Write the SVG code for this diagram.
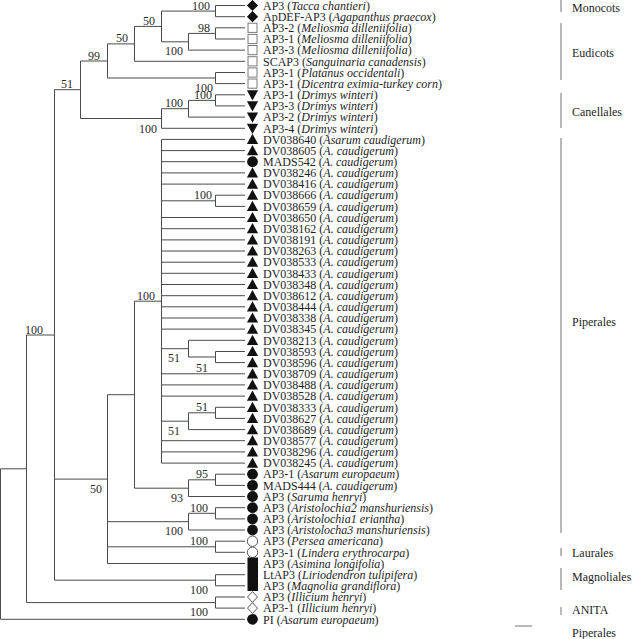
<svg xmlns="http://www.w3.org/2000/svg" xmlns:xlink="http://www.w3.org/1999/xlink" width="632" height="639" viewBox="0 0 632 639">
<style>
text{font-family:"Liberation Serif","Times New Roman",serif;font-size:12px;fill:#1e1e1e}
.i{font-style:italic}
.bs{text-anchor:end;fill:#2a2a2a}
.tree{fill:none;stroke:#4a4a4a;stroke-width:1}
.bar{fill:none;stroke:#8a8a8a;stroke-width:1.2}
</style>
<defs>
<path id="dia" d="M0,-5.6 L5.6,0 L0,5.6 L-5.6,0Z" fill="#111"/>
<rect id="sq" x="-4.5" y="-4.6" width="9" height="9.2" fill="#fff" stroke="#7a7a7a" stroke-width="1"/>
<path id="tri" d="M0,-5.6 L5.6,4.6 L-5.6,4.6Z" fill="#111"/>
<path id="itri" d="M-5.6,-4.6 L5.6,-4.6 L0,5.6Z" fill="#111"/>
<circle id="dot" r="5.4" fill="#111"/>
<circle id="ocir" r="5.2" fill="#fff" stroke="#555" stroke-width="1"/>
<path id="odia" d="M0,-5.4 L5,0 L0,5.4 L-5,0Z" fill="#fff" stroke="#555" stroke-width="1"/>
</defs>

<g id="connectors" class="tree">
<path d="M0.5,468.8 V619.3 M0.5,468.8 H26.5 M0.5,619.3 H245
M26.5,335 V602.6 M26.5,335 H54.5 M26.5,602.6 H215.5
M215.5,597 V608.1 M215.5,597 H245 M215.5,608.1 H245
M54.5,89.7 V580.2 M54.5,89.7 H80.5 M54.5,479.1 H107.5 M54.5,580.2 H215.5
M215.5,574.7 V585.8 M215.5,574.7 H245 M215.5,585.8 H245
M80.5,61 V118.5 M80.5,61 H107.5 M80.5,118.5 H161.5
M107.5,43.9 V78 M107.5,43.9 H134.5 M107.5,78 H215.5
M215.5,72.5 V83.6 M215.5,72.5 H245 M215.5,83.6 H245
M134.5,26.4 V61.3 M134.5,26.4 H161.5 M134.5,61.3 H245
M161.5,11.1 V41.8 M161.5,11.1 H215.5 M161.5,41.8 H188.5
M215.5,5.5 V16.7 M215.5,5.5 H245 M215.5,16.7 H245
M188.5,33.4 V50.1 M188.5,33.4 H215.5 M188.5,50.1 H245
M215.5,27.8 V39 M215.5,27.8 H245 M215.5,39 H245
M161.5,108.7 V128.3 M161.5,108.7 H188.5 M161.5,128.3 H245
M188.5,100.4 V117.1 M188.5,100.4 H215.5 M188.5,117.1 H245
M215.5,94.8 V105.9 M215.5,94.8 H245 M215.5,105.9 H245
M107.5,394.7 V563.5 M107.5,394.7 H134.5 M107.5,521.7 H188.5 M107.5,546.8 H215.5 M107.5,563.5 H245
M134.5,301.2 V488.2 M134.5,301.2 H161.5 M134.5,488.2 H188.5
M161.5,139.4 V463.1 M161.5,200.8 H215.5 M161.5,348.7 H188.5 M161.5,421.2 H188.5
M161.5,139.4 H245 M161.5,150.6 H245 M161.5,161.7 H245 M161.5,172.9 H245 M161.5,184.1 H245
M161.5,217.5 H245 M161.5,228.7 H245 M161.5,239.9 H245 M161.5,251 H245 M161.5,262.2 H245 M161.5,273.3 H245 M161.5,284.5 H245 M161.5,295.7 H245 M161.5,306.8 H245 M161.5,318 H245 M161.5,329.1 H245
M161.5,373.8 H245 M161.5,384.9 H245 M161.5,396.1 H245
M161.5,440.7 H245 M161.5,451.9 H245 M161.5,463.1 H245
M215.5,195.2 V206.4 M215.5,195.2 H245 M215.5,206.4 H245
M188.5,340.3 V357 M188.5,340.3 H245 M188.5,357 H215.5
M215.5,351.5 V362.6 M215.5,351.5 H245 M215.5,362.6 H245
M188.5,412.8 V429.6 M188.5,412.8 H215.5 M188.5,429.6 H245
M215.5,407.3 V418.4 M215.5,407.3 H245 M215.5,418.4 H245
M188.5,479.8 V496.5 M188.5,479.8 H215.5 M188.5,496.5 H245
M215.5,474.2 V485.4 M215.5,474.2 H245 M215.5,485.4 H245
M188.5,513.3 V530 M188.5,513.3 H215.5 M188.5,530 H245
M215.5,507.7 V518.9 M215.5,507.7 H245 M215.5,518.9 H245
M215.5,541.2 V552.3 M215.5,541.2 H245 M215.5,552.3 H245"/>
</g>

<g id="support-values">
<text class="bs" x="210" y="9.6">100</text>
<text class="bs" x="210" y="31.9">98</text>
<text class="bs" x="183" y="55.2">100</text>
<text class="bs" x="155" y="24.9">50</text>
<text class="bs" x="128" y="42.4">50</text>
<text class="bs" x="100" y="59.5">99</text>
<text class="bs" x="213" y="92">100</text>
<text class="bs" x="212" y="98.9">100</text>
<text class="bs" x="183" y="107.2">100</text>
<text class="bs" x="157" y="132.5">100</text>
<text class="bs" x="73" y="88.2">51</text>
<text class="bs" x="43" y="333.5">100</text>
<text class="bs" x="212" y="199.3">100</text>
<text class="bs" x="180" y="362.3">51</text>
<text class="bs" x="208" y="372.3">51</text>
<text class="bs" x="208" y="411.3">51</text>
<text class="bs" x="180" y="434.7">51</text>
<text class="bs" x="155" y="299.7">100</text>
<text class="bs" x="208" y="478.3">95</text>
<text class="bs" x="183" y="501.5">93</text>
<text class="bs" x="208" y="511.8">100</text>
<text class="bs" x="183" y="535">100</text>
<text class="bs" x="208" y="545.3">100</text>
<text class="bs" x="102" y="492.8">50</text>
<text class="bs" x="208" y="593.5">100</text>
<text class="bs" x="208" y="615.5">100</text>
</g>

<g id="leaf-0"><use href="#dia" x="252.5" y="5.5"/><text x="263" y="9.7">AP3 (<tspan class="i">Tacca chantieri</tspan>)</text></g>
<g id="leaf-1"><use href="#dia" x="252.5" y="16.7"/><text x="263" y="20.9">ApDEF-AP3 (<tspan class="i">Agapanthus praecox</tspan>)</text></g>
<g id="leaf-2"><use href="#sq" x="252.5" y="27.8"/><text x="263" y="32">AP3-2 (<tspan class="i">Meliosma dilleniifolia</tspan>)</text></g>
<g id="leaf-3"><use href="#sq" x="252.5" y="39"/><text x="263" y="43.2">AP3-1 (<tspan class="i">Meliosma dilleniifolia</tspan>)</text></g>
<g id="leaf-4"><use href="#sq" x="252.5" y="50.1"/><text x="263" y="54.3">AP3-3 (<tspan class="i">Meliosma dilleniifolia</tspan>)</text></g>
<g id="leaf-5"><use href="#sq" x="252.5" y="61.3"/><text x="263" y="65.5">SCAP3 (<tspan class="i">Sanguinaria canadensis</tspan>)</text></g>
<g id="leaf-6"><use href="#sq" x="252.5" y="72.5"/><text x="263" y="76.7">AP3-1 (<tspan class="i">Platanus occidentali</tspan>)</text></g>
<g id="leaf-7"><use href="#sq" x="252.5" y="83.6"/><text x="263" y="87.8">AP3-1 (<tspan class="i">Dicentra eximia-turkey corn</tspan>)</text></g>
<g id="leaf-8"><use href="#itri" x="252.5" y="94.8"/><text x="263" y="99">AP3-1 (<tspan class="i">Drimys winteri</tspan>)</text></g>
<g id="leaf-9"><use href="#itri" x="252.5" y="105.9"/><text x="263" y="110.1">AP3-3 (<tspan class="i">Drimys winteri</tspan>)</text></g>
<g id="leaf-10"><use href="#itri" x="252.5" y="117.1"/><text x="263" y="121.3">AP3-2 (<tspan class="i">Drimys winteri</tspan>)</text></g>
<g id="leaf-11"><use href="#itri" x="252.5" y="128.3"/><text x="263" y="132.5">AP3-4 (<tspan class="i">Drimys winteri</tspan>)</text></g>
<g id="leaf-12"><use href="#tri" x="252.5" y="139.4"/><text x="263" y="143.6">DV038640 (<tspan class="i">Asarum caudigerum</tspan>)</text></g>
<g id="leaf-13"><use href="#tri" x="252.5" y="150.6"/><text x="263" y="154.8">DV038605 (<tspan class="i">A. caudigerum</tspan>)</text></g>
<g id="leaf-14"><use href="#dot" x="252.5" y="161.7"/><text x="263" y="165.9">MADS542 (<tspan class="i">A. caudigerum</tspan>)</text></g>
<g id="leaf-15"><use href="#tri" x="252.5" y="172.9"/><text x="263" y="177.1">DV038246 (<tspan class="i">A. caudigerum</tspan>)</text></g>
<g id="leaf-16"><use href="#tri" x="252.5" y="184.1"/><text x="263" y="188.3">DV038416 (<tspan class="i">A. caudigerum</tspan>)</text></g>
<g id="leaf-17"><use href="#tri" x="252.5" y="195.2"/><text x="263" y="199.4">DV038666 (<tspan class="i">A. caudigerum</tspan>)</text></g>
<g id="leaf-18"><use href="#tri" x="252.5" y="206.4"/><text x="263" y="210.6">DV038659 (<tspan class="i">A. caudigerum</tspan>)</text></g>
<g id="leaf-19"><use href="#tri" x="252.5" y="217.5"/><text x="263" y="221.7">DV038650 (<tspan class="i">A. caudigerum</tspan>)</text></g>
<g id="leaf-20"><use href="#tri" x="252.5" y="228.7"/><text x="263" y="232.9">DV038162 (<tspan class="i">A. caudigerum</tspan>)</text></g>
<g id="leaf-21"><use href="#tri" x="252.5" y="239.9"/><text x="263" y="244.1">DV038191 (<tspan class="i">A. caudigerum</tspan>)</text></g>
<g id="leaf-22"><use href="#tri" x="252.5" y="251"/><text x="263" y="255.2">DV038263 (<tspan class="i">A. caudigerum</tspan>)</text></g>
<g id="leaf-23"><use href="#tri" x="252.5" y="262.2"/><text x="263" y="266.4">DV038533 (<tspan class="i">A. caudigerum</tspan>)</text></g>
<g id="leaf-24"><use href="#tri" x="252.5" y="273.3"/><text x="263" y="277.5">DV038433 (<tspan class="i">A. caudigerum</tspan>)</text></g>
<g id="leaf-25"><use href="#tri" x="252.5" y="284.5"/><text x="263" y="288.7">DV038348 (<tspan class="i">A. caudigerum</tspan>)</text></g>
<g id="leaf-26"><use href="#tri" x="252.5" y="295.7"/><text x="263" y="299.9">DV038612 (<tspan class="i">A. caudigerum</tspan>)</text></g>
<g id="leaf-27"><use href="#tri" x="252.5" y="306.8"/><text x="263" y="311">DV038444 (<tspan class="i">A. caudigerum</tspan>)</text></g>
<g id="leaf-28"><use href="#tri" x="252.5" y="318"/><text x="263" y="322.2">DV038338 (<tspan class="i">A. caudigerum</tspan>)</text></g>
<g id="leaf-29"><use href="#tri" x="252.5" y="329.1"/><text x="263" y="333.3">DV038345 (<tspan class="i">A. caudigerum</tspan>)</text></g>
<g id="leaf-30"><use href="#tri" x="252.5" y="340.3"/><text x="263" y="344.5">DV038213 (<tspan class="i">A. caudigerum</tspan>)</text></g>
<g id="leaf-31"><use href="#tri" x="252.5" y="351.5"/><text x="263" y="355.7">DV038593 (<tspan class="i">A. caudigerum</tspan>)</text></g>
<g id="leaf-32"><use href="#tri" x="252.5" y="362.6"/><text x="263" y="366.8">DV038596 (<tspan class="i">A. caudigerum</tspan>)</text></g>
<g id="leaf-33"><use href="#tri" x="252.5" y="373.8"/><text x="263" y="378">DV038709 (<tspan class="i">A. caudigerum</tspan>)</text></g>
<g id="leaf-34"><use href="#tri" x="252.5" y="384.9"/><text x="263" y="389.1">DV038488 (<tspan class="i">A. caudigerum</tspan>)</text></g>
<g id="leaf-35"><use href="#tri" x="252.5" y="396.1"/><text x="263" y="400.3">DV038528 (<tspan class="i">A. caudigerum</tspan>)</text></g>
<g id="leaf-36"><use href="#tri" x="252.5" y="407.3"/><text x="263" y="411.5">DV038333 (<tspan class="i">A. caudigerum</tspan>)</text></g>
<g id="leaf-37"><use href="#tri" x="252.5" y="418.4"/><text x="263" y="422.6">DV038627 (<tspan class="i">A. caudigerum</tspan>)</text></g>
<g id="leaf-38"><use href="#tri" x="252.5" y="429.6"/><text x="263" y="433.8">DV038689 (<tspan class="i">A. caudigerum</tspan>)</text></g>
<g id="leaf-39"><use href="#tri" x="252.5" y="440.7"/><text x="263" y="444.9">DV038577 (<tspan class="i">A. caudigerum</tspan>)</text></g>
<g id="leaf-40"><use href="#tri" x="252.5" y="451.9"/><text x="263" y="456.1">DV038296 (<tspan class="i">A. caudigerum</tspan>)</text></g>
<g id="leaf-41"><use href="#tri" x="252.5" y="463.1"/><text x="263" y="467.3">DV038245 (<tspan class="i">A. caudigerum</tspan>)</text></g>
<g id="leaf-42"><use href="#dot" x="252.5" y="474.2"/><text x="263" y="478.4">AP3-1 (<tspan class="i">Asarum europaeum</tspan>)</text></g>
<g id="leaf-43"><use href="#dot" x="252.5" y="485.4"/><text x="263" y="489.6">MADS444 (<tspan class="i">A. caudigerum</tspan>)</text></g>
<g id="leaf-44"><use href="#dot" x="252.5" y="496.5"/><text x="263" y="500.7">AP3 (<tspan class="i">Saruma henryi</tspan>)</text></g>
<g id="leaf-45"><use href="#dot" x="252.5" y="507.7"/><text x="263" y="511.9">AP3 (<tspan class="i">Aristolochia2 manshuriensis</tspan>)</text></g>
<g id="leaf-46"><use href="#dot" x="252.5" y="518.9"/><text x="263" y="523.1">AP3 (<tspan class="i">Aristolochia1 eriantha</tspan>)</text></g>
<g id="leaf-47"><use href="#dot" x="252.5" y="530"/><text x="263" y="534.2">AP3 (<tspan class="i">Aristolocha3 manshuriensis</tspan>)</text></g>
<g id="leaf-48"><use href="#ocir" x="252.5" y="541.2"/><text x="263" y="545.4">AP3 (<tspan class="i">Persea americana</tspan>)</text></g>
<g id="leaf-49"><use href="#ocir" x="252.5" y="552.3"/><text x="263" y="556.5">AP3-1 (<tspan class="i">Lindera erythrocarpa</tspan>)</text></g>
<g id="magnoliales-marker"><rect x="247.5" y="557.5" width="10.5" height="33.5" fill="#111"/></g>
<g id="leaf-50"><text x="263" y="567.7">AP3 (<tspan class="i">Asimina longifolia</tspan>)</text></g>
<g id="leaf-51"><text x="263" y="578.9">LtAP3 (<tspan class="i">Liriodendron tulipifera</tspan>)</text></g>
<g id="leaf-52"><text x="263" y="590">AP3 (<tspan class="i">Magnolia grandiflora</tspan>)</text></g>
<g id="leaf-53"><use href="#odia" x="252.5" y="597"/><text x="263" y="601.2">AP3 (<tspan class="i">Illicium henryi</tspan>)</text></g>
<g id="leaf-54"><use href="#odia" x="252.5" y="608.1"/><text x="263" y="612.3">AP3-1 (<tspan class="i">Illicium henryi</tspan>)</text></g>
<g id="leaf-55"><use href="#dot" x="252.5" y="619.3"/><text x="263" y="623.5">PI (<tspan class="i">Asarum europaeum</tspan>)</text></g>

<g id="group-monocots"><path class="bar" d="M561,0 V12"/><text x="572" y="11.5">Monocots</text></g>
<g id="group-eudicots"><path class="bar" d="M561,23 V80"/><text x="572" y="57.3">Eudicots</text></g>
<g id="group-canellales"><path class="bar" d="M561,93 V128"/><text x="572" y="116">Canellales</text></g>
<g id="group-piperales"><path class="bar" d="M561,138 V533"/><text x="572" y="326">Piperales</text></g>
<g id="group-laurales"><path class="bar" d="M561,548 V556"/><text x="572" y="556.7">Laurales</text></g>
<g id="group-magnoliales"><path class="bar" d="M561,568 V590"/><text x="572" y="581.3">Magnoliales</text></g>
<g id="group-anita"><path class="bar" d="M561,607 V615"/><text x="572" y="614">ANITA</text></g>
<g id="group-piperales-2"><path class="bar" d="M515,626 H532"/><text x="572" y="637.3">Piperales</text></g>
</svg>
